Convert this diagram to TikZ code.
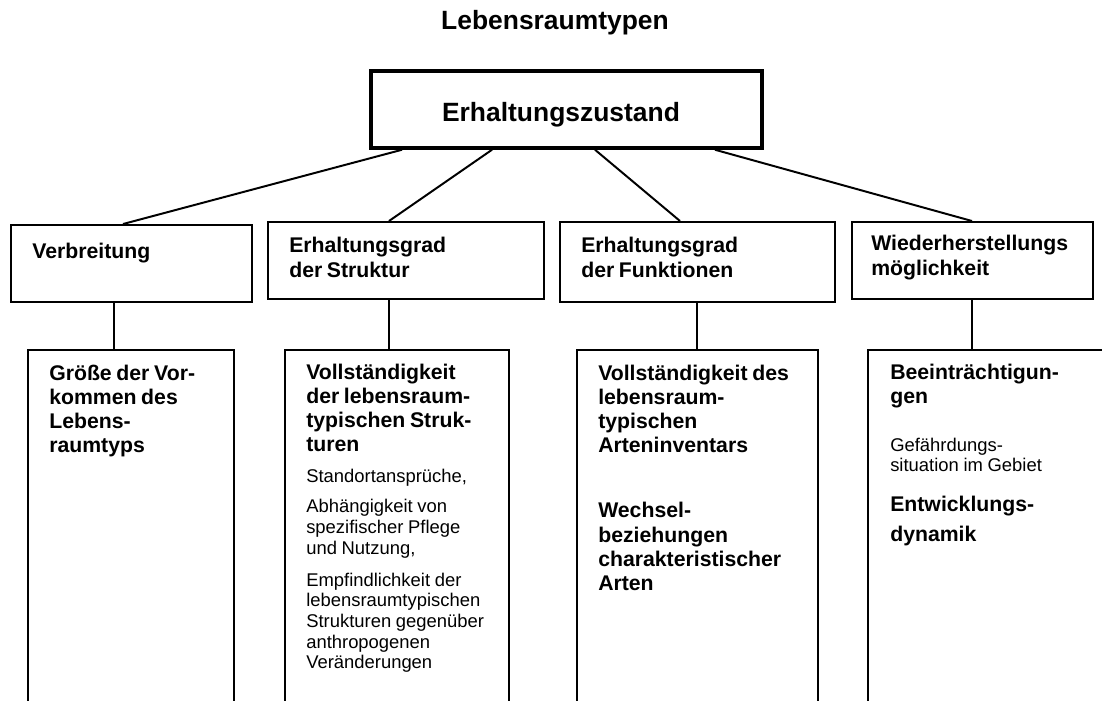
\documentclass[tikz,border=0pt]{standalone}
\usepackage{fontspec}
\setmainfont{Liberation Sans}
\setsansfont{Liberation Sans}
\usetikzlibrary{fit}
\definecolor{lrInk}{HTML}{000000}
\newcommand\lrhead{\sffamily\fontsize{18.8}{22}\selectfont\bfseries}
\newcommand\lrbold{\fontsize{15.1}{17.3}\selectfont\bfseries}
\newcommand\lrplain{\fontsize{13.1}{14.7}\selectfont\mdseries}
\tikzset{
  every picture/.style={font=\sffamily, text=lrInk},
  lr box/.style={draw=lrInk, line width=1.4pt, rectangle, inner sep=0pt},
  lr main/.style={lr box, line width=2.5pt},
  lr head/.style={anchor=base, inner sep=0pt, font=\lrhead},
  lr text/.style={anchor=base west, inner sep=0pt, align=left, text width=70mm},
  lr link/.style={draw=lrInk, line width=1.4pt}
}

\begin{document}
\begin{tikzpicture}[x=0.25mm, y=-0.25mm]
  \useasboundingbox (0,0) rectangle (1102,701);
  % heading and main box
  \node[lr head] (title) at (555,30) {Lebensraumtypen};
  \node[lr main, fit={(371,71) (762,148)}] (zustand) {};
  \node[lr head] (zustandtext) at (561,122) {Erhaltungszustand};
  % criteria
  \node[lr box, fit={(11,225) (252,302)}] (verb) {};
  \node[lr box, fit={(268,222) (544,299)}] (strgrad) {};
  \node[lr box, fit={(560,222) (835,302)}] (fktgrad) {};
  \node[lr box, fit={(852,222) (1093,299)}] (wiederh) {};
  \node[lr text] (verbtext) at (32,258) {\lrbold Verbreitung\par};
  \node[lr text] (strgradtext) at (289,252) {\lrbold Erhaltungsgrad\\[1pt]der Struktur\par};
  \node[lr text] (fktgradtext) at (581,252) {\lrbold Erhaltungsgrad\\[1pt]der Funktionen\par};
  \node[lr text] (wiederhtext) at (871,250) {\lrbold Wiederherstellungs\\[1pt]möglichkeit\par};
  % sub-criteria, open at the bottom
  \node[lr box, fit={(28,350) (234,730)}] (groesse) {};
  \node[lr box, fit={(285,350) (509,730)}] (vollstr) {};
  \node[lr box, fit={(577,350) (818,730)}] (arten) {};
  \node[lr box, fit={(868,350) (1130,730)}] (beeintr) {};
  \node[lr text] (groessetext) at (49,380)
    {\lrbold Größe der Vor-\\kommen des\\Lebens-\\raumtyps\par};
  \node[lr text] (vollstrtext) at (306,379)
    {\lrbold Vollständigkeit\\der lebensraum-\\typischen Struk-\\turen\par
     \vspace{7.3pt}\lrplain Standortansprüche,\par
     \vspace{6.6pt}Abhängigkeit von\\spezifischer Pflege\\und Nutzung,\par
     \vspace{8pt}Empfindlichkeit der\\lebensraumtypischen\\Strukturen gegenüber\\anthropogenen\\Veränderungen\par};
  \node[lr text] (artentext) at (598,380)
    {\lrbold Vollständigkeit des\\lebensraum-\\typischen\\Arteninventars\par
     \vspace{28.9pt}Wechsel-\\beziehungen\\charakteristischer\\Arten\par};
  \node[lr text] (beeintrtext) at (890,379)
    {\lrbold Beeinträchtigun-\\gen\par
     \vspace{19.4pt}\lrplain Gefährdungs-\\situation im Gebiet\par
     \vspace{11.2pt}\lrbold Entwicklungs-\\[4pt]dynamik\par};
  % connectors
  \draw[lr link] (zustand.south -| 402,0) -- (verb.north -| 123,0);
  \draw[lr link] (zustand.south -| 492,0) -- (strgrad.north -| 389,0);
  \draw[lr link] (zustand.south -| 595,0) -- (fktgrad.north -| 680,0);
  \draw[lr link] (zustand.south -| 715,0) -- (wiederh.north -| 972,0);
  \draw[lr link] (verb.south -| 114,0) -- (groesse.north -| 114,0);
  \draw[lr link] (strgrad.south -| 389,0) -- (vollstr.north -| 389,0);
  \draw[lr link] (fktgrad.south -| 697,0) -- (arten.north -| 697,0);
  \draw[lr link] (wiederh.south -| 972,0) -- (beeintr.north -| 972,0);
\end{tikzpicture}
\end{document}
